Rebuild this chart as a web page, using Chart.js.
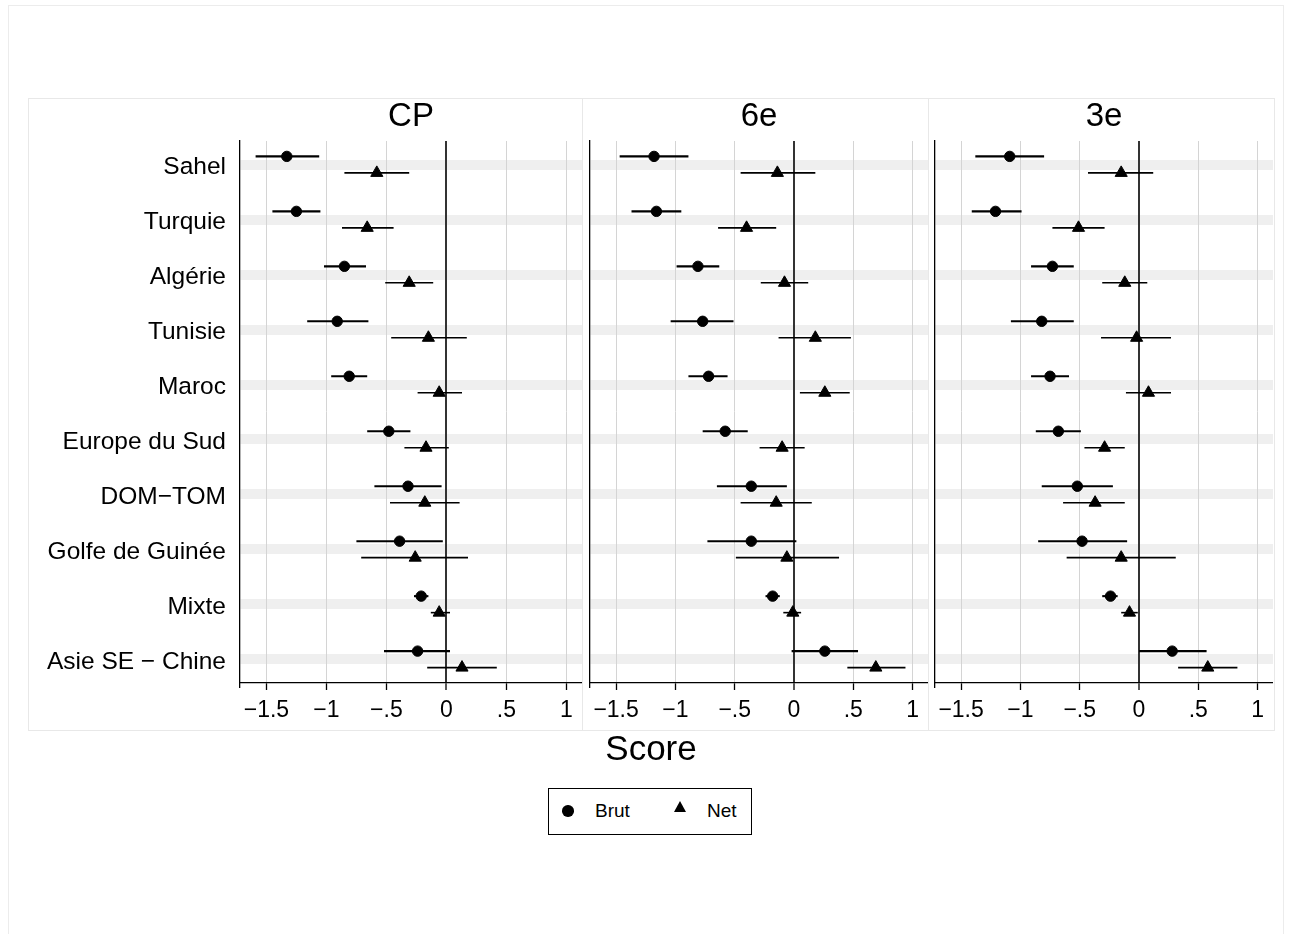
<!DOCTYPE html>
<html><head><meta charset="utf-8">
<script src="https://cdn.jsdelivr.net/npm/chart.js@4.4.1/dist/chart.umd.min.js"></script>
<style>
html,body{margin:0;padding:0;background:#fff;}
#root{position:relative;width:1291px;height:934px;overflow:hidden;font-family:"Liberation Sans",Arial,sans-serif;color:#000;}
.abs{position:absolute;}
canvas{position:absolute;}
</style></head>
<body><div id="root">
<div class="abs" style="left:8px;top:5px;width:1274px;height:960px;border:1px solid #ececec;"></div>
<div class="abs" style="left:28px;top:98px;width:1245px;height:631px;border:1px solid #e8e8e8;"></div>
<div class="abs" style="left:582px;top:98px;width:1px;height:632px;background:#e8e8e8;"></div>
<div class="abs" style="left:928px;top:98px;width:1px;height:632px;background:#e8e8e8;"></div>
<canvas id="c0" width="554" height="632" style="left:28px;top:98px"></canvas>
<canvas id="c1" width="345" height="632" style="left:583px;top:98px"></canvas>
<canvas id="c2" width="345" height="632" style="left:928px;top:98px"></canvas>
<div class="abs" style="left:28px;width:1246px;top:728px;text-align:center;font-size:35px;line-height:40px;">Score</div>
<div class="abs" style="left:548px;top:788px;width:204px;height:47px;border:1.3px solid #000;box-sizing:border-box;"></div>
<div class="abs" style="left:562px;top:805px;width:11.5px;height:11.5px;border-radius:50%;background:#000;"></div>
<div class="abs" id="lgBrut" style="left:595px;top:799px;font-size:19px;line-height:24px;"></div>
<div class="abs" style="left:674px;top:801px;width:0;height:0;border-left:6.5px solid transparent;border-right:6.5px solid transparent;border-bottom:11.5px solid #000;"></div>
<div class="abs" id="lgNet" style="left:707px;top:799px;font-size:19px;line-height:24px;"></div>
</div>
<script>
// ---------- data ----------
const categories = ['Sahel','Turquie','Algérie','Tunisie','Maroc','Europe du Sud','DOM\u2212TOM','Golfe de Guinée','Mixte','Asie SE \u2212 Chine'];
const panelTitles = ['CP','6e','3e'];
const seriesNames = ['Brut','Net'];
const xTickValues = [-1.5,-1,-0.5,0,0.5,1];
const xTickLabels = ['\u22121.5','\u22121','\u2212.5','0','.5','1'];

// CP
const cpBrut   = [-1.33,-1.25,-0.85,-0.91,-0.81,-0.48,-0.32,-0.39,-0.21,-0.24];
const cpBrutLo = [-1.59,-1.45,-1.02,-1.16,-0.96,-0.66,-0.60,-0.75,-0.27,-0.52];
const cpBrutHi = [-1.06,-1.05,-0.67,-0.65,-0.66,-0.30,-0.04,-0.03,-0.15, 0.03];
const cpNet    = [-0.58,-0.66,-0.31,-0.15,-0.06,-0.17,-0.18,-0.26,-0.06, 0.13];
const cpNetLo  = [-0.85,-0.87,-0.51,-0.46,-0.24,-0.35,-0.47,-0.71,-0.13,-0.16];
const cpNetHi  = [-0.31,-0.44,-0.11, 0.17, 0.13, 0.02, 0.11, 0.18, 0.03, 0.42];
// 6e
const e6Brut   = [-1.18,-1.16,-0.81,-0.77,-0.72,-0.58,-0.36,-0.36,-0.18, 0.26];
const e6BrutLo = [-1.47,-1.37,-0.99,-1.04,-0.89,-0.77,-0.65,-0.73,-0.24,-0.02];
const e6BrutHi = [-0.89,-0.95,-0.63,-0.51,-0.56,-0.39,-0.06, 0.02,-0.12, 0.54];
const e6Net    = [-0.14,-0.40,-0.08, 0.18, 0.26,-0.10,-0.15,-0.06,-0.01, 0.69];
const e6NetLo  = [-0.45,-0.64,-0.28,-0.13, 0.05,-0.29,-0.45,-0.49,-0.09, 0.45];
const e6NetHi  = [ 0.18,-0.15, 0.12, 0.48, 0.47, 0.09, 0.15, 0.38, 0.06, 0.94];
// 3e
const e3Brut   = [-1.09,-1.21,-0.73,-0.82,-0.75,-0.68,-0.52,-0.48,-0.24, 0.28];
const e3BrutLo = [-1.38,-1.41,-0.91,-1.08,-0.91,-0.87,-0.82,-0.85,-0.31, 0.00];
const e3BrutHi = [-0.80,-0.99,-0.55,-0.55,-0.59,-0.49,-0.22,-0.10,-0.18, 0.57];
const e3Net    = [-0.15,-0.51,-0.12,-0.02, 0.08,-0.29,-0.37,-0.15,-0.08, 0.58];
const e3NetLo  = [-0.43,-0.73,-0.31,-0.32,-0.11,-0.46,-0.64,-0.61,-0.15, 0.33];
const e3NetHi  = [ 0.12,-0.29, 0.07, 0.27, 0.27,-0.12,-0.12, 0.31,-0.01, 0.83];

const panels = [
  {title: panelTitles[0], brut: cpBrut, brutLo: cpBrutLo, brutHi: cpBrutHi, net: cpNet, netLo: cpNetLo, netHi: cpNetHi},
  {title: panelTitles[1], brut: e6Brut, brutLo: e6BrutLo, brutHi: e6BrutHi, net: e6Net, netLo: e6NetLo, netHi: e6NetHi},
  {title: panelTitles[2], brut: e3Brut, brutLo: e3BrutLo, brutHi: e3BrutHi, net: e3Net, netLo: e3NetLo, netHi: e3NetHi}
];

document.getElementById('lgBrut').textContent = seriesNames[0];
document.getElementById('lgNet').textContent = seriesNames[1];

const FONT = '"Liberation Sans", Arial, sans-serif';
const ROW_OFFSET = 0.15;

const errorBarPlugin = {
  id: 'errorBars',
  beforeDatasetsDraw(chart) {
    const ctx = chart.ctx, xs = chart.scales.x, ys = chart.scales.y;
    chart.data.datasets.forEach((ds) => {
      ctx.save();
      ctx.strokeStyle = '#000';
      ctx.lineWidth = ds.barWidth;
      ds.data.forEach((pt, i) => {
        const py = ys.getPixelForValue(pt.y);
        ctx.beginPath();
        ctx.moveTo(xs.getPixelForValue(ds.lo[i]), py);
        ctx.lineTo(xs.getPixelForValue(ds.hi[i]), py);
        ctx.stroke();
      });
      ctx.restore();
    });
  }
};

function makeChart(k) {
  const p = panels[k];
  const first = k === 0;
  return new Chart(document.getElementById('c' + k), {
    type: 'scatter',
    data: {
      datasets: [
        { label: seriesNames[0], data: p.brut.map((v, i) => ({x: v, y: i + 1 - ROW_OFFSET})),
          lo: p.brutLo, hi: p.brutHi, barWidth: 2.1,
          pointStyle: 'circle', pointRadius: 5.2, pointHoverRadius: 5.2, pointBorderWidth: 1,
          backgroundColor: '#000', borderColor: '#000' },
        { label: seriesNames[1], data: p.net.map((v, i) => ({x: v, y: i + 1 + ROW_OFFSET})),
          lo: p.netLo, hi: p.netHi, barWidth: 1.6,
          pointStyle: 'triangle', pointRadius: 7, pointHoverRadius: 7, pointBorderWidth: 1,
          backgroundColor: '#000', borderColor: '#000' }
      ]
    },
    options: {
      responsive: false, animation: false, devicePixelRatio: 1,
      layout: {padding: 0, autoPadding: false},
      events: [],
      plugins: {
        legend: {display: false},
        tooltip: {enabled: false},
        title: {display: true, text: p.title, fullSize: false, color: '#000',
                font: {family: FONT, size: 33, lineHeight: 1, weight: 'normal'},
                padding: {top: 2, bottom: 8}}
      },
      scales: {
        x: {
          type: 'linear', min: -1.72, max: 1.13,
          afterBuildTicks: s => { s.ticks = xTickValues.map(v => ({value: v})); },
          afterFit: s => { s.height = 47; s.paddingLeft = 0; s.paddingRight = 0; },
          ticks: {
            callback: v => xTickLabels[xTickValues.indexOf(v)],
            color: '#000', font: {family: FONT, size: 23}, padding: 7,
            maxRotation: 0, minRotation: 0, autoSkip: false
          },
          grid: {
            color: c => (c.tick && c.tick.value === 0) ? '#333333' : '#d4d4d4',
            lineWidth: c => (c.tick && c.tick.value === 0) ? 2 : 1,
            tickLength: 7, tickColor: '#000', tickWidth: 1.3, z: -1
          },
          border: {display: true, color: '#000', width: 1.3}
        },
        y: {
          type: 'linear', reverse: true, min: 0.57, max: 10.43,
          afterBuildTicks: s => { s.ticks = categories.map((c, i) => ({value: i + 1})); },
          afterFit: s => { s.width = first ? 212 : 7; s.paddingTop = 0; s.paddingBottom = 0; },
          ticks: {
            display: first,
            callback: v => categories[Math.round(v) - 1],
            color: '#000', font: {family: FONT, size: 24.5}, padding: 14, autoSkip: false,
            labelOffset: 2.5
          },
          grid: {color: '#efefef', lineWidth: 10, drawTicks: false, z: -2},
          border: {display: true, color: '#000', width: 1.3}
        }
      }
    },
    plugins: [errorBarPlugin]
  });
}
[0, 1, 2].forEach(makeChart);
</script>
</body></html>
